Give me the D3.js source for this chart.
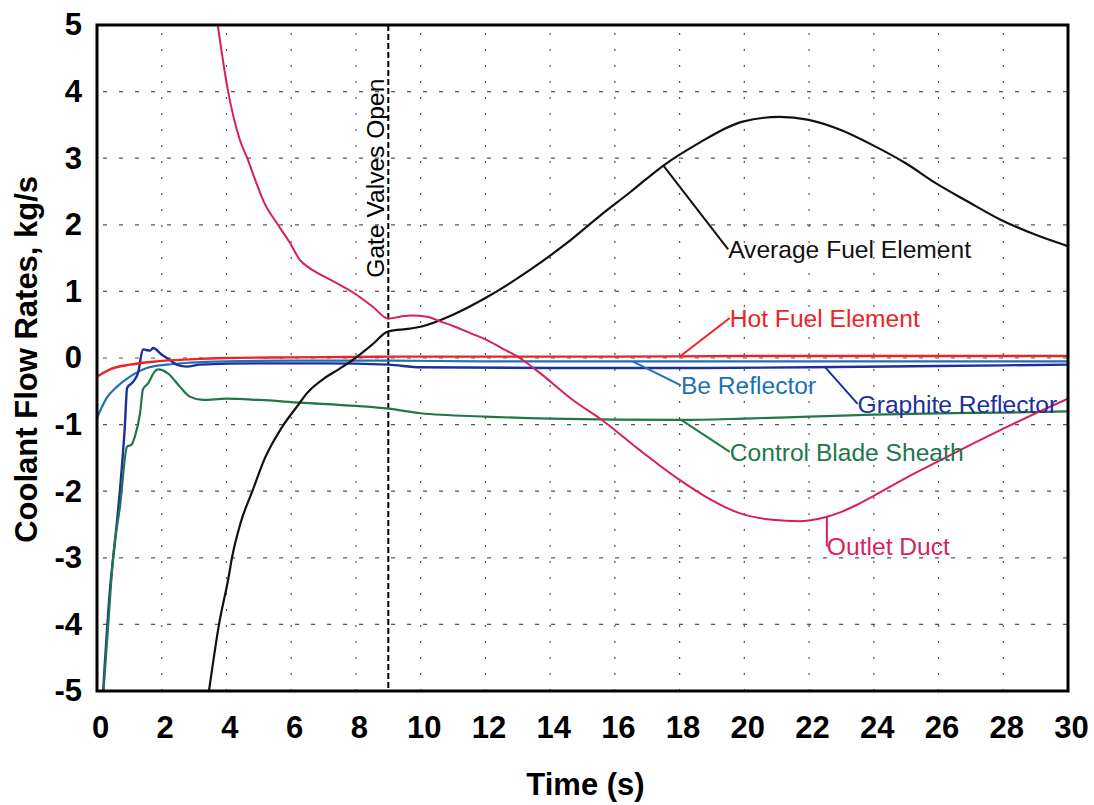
<!DOCTYPE html>
<html>
<head>
<meta charset="utf-8">
<script src="https://cdn.jsdelivr.net/npm/d3@7"></script>
<style>
  html, body { margin: 0; padding: 0; background: #fff; }
  svg { display: block; }
</style>
</head>
<body>
<svg id="chart" width="1094" height="805"></svg>
<script>
// ---------------- DATA ----------------
const xTicks = [0, 2, 4, 6, 8, 10, 12, 14, 16, 18, 20, 22, 24, 26, 28, 30];
const yTicks = [-5, -4, -3, -2, -1, 0, 1, 2, 3, 4, 5];
const xTitle = "Time (s)";
const yTitle = "Coolant Flow Rates, kg/s";
const gateTime = 9;
const gateLabel = "Gate Valves Open";

const outletX = [3.73, 4.04, 4.41, 4.66, 4.9, 5.17, 5.55, 5.96, 6.27, 6.57, 7.19, 8.02, 8.52, 9.0, 9.35, 9.7, 10.2, 10.6, 11.0, 11.5, 12.0, 12.5, 13.06, 13.67, 14.7, 15.6, 16.76, 18.0, 18.8, 19.85, 20.87, 21.7, 22.0, 22.5, 23.0, 23.5, 24.0, 25.0, 26.0, 27.0, 28.0, 29.0, 30];
const outletY = [5.0, 4.03, 3.28, 2.98, 2.66, 2.33, 2.03, 1.73, 1.47, 1.35, 1.18, 0.95, 0.77, 0.59, 0.62, 0.64, 0.62, 0.55, 0.48, 0.38, 0.28, 0.15, 0.0, -0.22, -0.63, -0.93, -1.38, -1.83, -2.08, -2.33, -2.43, -2.45, -2.44, -2.39, -2.31, -2.2, -2.07, -1.8, -1.55, -1.3, -1.06, -0.83, -0.61];

const avgX = [3.46, 3.77, 4.07, 4.17, 4.44, 4.8, 5.19, 5.7, 6.27, 6.45, 6.98, 7.5, 7.9, 8.5, 9.0, 9.66, 10.0, 11.0, 12.0, 13.4, 14.5, 15.5, 16.5, 17.5, 18.5, 19.95, 21.1, 21.95, 23.0, 23.95, 25.0, 25.9, 26.9, 27.9, 29.0, 30];
const avgY = [-5, -4, -3.28, -3.0, -2.47, -2.0, -1.5, -1.05, -0.67, -0.55, -0.32, -0.16, -0.03, 0.2, 0.4, 0.44, 0.47, 0.65, 0.9, 1.33, 1.72, 2.12, 2.5, 2.89, 3.2, 3.55, 3.62, 3.58, 3.42, 3.2, 2.92, 2.63, 2.35, 2.08, 1.85, 1.68];

const hotX = [0, 0.4, 1.02, 1.85, 2.87, 4, 6, 9, 12, 16, 20, 24, 30];
const hotY = [-0.28, -0.17, -0.1, -0.05, -0.02, 0.0, 0.01, 0.02, 0.02, 0.02, 0.03, 0.03, 0.03];

const beX = [0, 0.3, 0.62, 1.02, 1.54, 2.16, 2.87, 4, 6, 9, 12, 16, 20, 24, 30];
const beY = [-0.9, -0.6, -0.43, -0.28, -0.15, -0.1, -0.07, -0.05, -0.04, -0.04, -0.05, -0.05, -0.05, -0.05, -0.05];

const graphX = [0.19, 0.4, 0.55, 0.71, 0.86, 0.93, 1.11, 1.27, 1.42, 1.64, 1.73, 2.0, 2.25, 2.46, 2.78, 3.18, 5, 7, 9, 10, 14, 18, 22, 26, 30];
const graphY = [-5, -3.48, -2.78, -1.98, -1.03, -0.45, -0.36, -0.22, 0.13, 0.11, 0.15, 0.05, -0.03, -0.1, -0.13, -0.1, -0.08, -0.08, -0.1, -0.14, -0.15, -0.15, -0.14, -0.12, -0.1];

const bladeX = [0.2, 0.35, 0.5, 0.71, 0.93, 1.07, 1.17, 1.33, 1.42, 1.58, 1.79, 1.89, 2.19, 2.56, 2.87, 3.27, 4.0, 5.0, 6.27, 8, 9, 10, 12, 14, 18, 20, 22, 24, 26, 28, 30];
const bladeY = [-5, -3.98, -2.98, -2.23, -1.33, -1.3, -1.18, -0.83, -0.47, -0.38, -0.2, -0.17, -0.23, -0.43, -0.58, -0.63, -0.61, -0.63, -0.67, -0.72, -0.76, -0.83, -0.88, -0.91, -0.93, -0.91, -0.88, -0.85, -0.83, -0.82, -0.8];

const seriesNames = ["Outlet Duct", "Average Fuel Element", "Hot Fuel Element", "Be Reflector", "Graphite Reflector", "Control Blade Sheath"];
const seriesXs = [outletX, avgX, hotX, beX, graphX, bladeX];
const seriesYs = [outletY, avgY, hotY, beY, graphY, bladeY];

// annotation anchors (on curve) and label points, in data units
const labelAnchorX = [22.55, 17.5, 18.0, 16.55, 22.5, 18.05];
const labelAnchorY = [-2.39, 2.89, 0.02, -0.05, -0.14, -0.93];
const labelPosX = [22.55, 19.5, 19.55, 18.04, 23.5, 19.55];
const labelPosY = [-2.83, 1.63, 0.6, -0.41, -0.69, -1.41];

// ---------------- STYLE / LAYOUT ----------------
const colors = ["#d81f5c", "#111111", "#ec2424", "#2070b8", "#1b2f9e", "#22774a"];
const widths = [2, 2.2, 2.4, 2.2, 2.4, 2.2];
const margin = { left: 97, right: 1094 - 1068, top: 25, bottom: 805 - 691 };
const W = 1094, H = 805;

const svg = d3.select("#chart");
const x = d3.scaleLinear().domain([0, 30]).range([margin.left, W - margin.right]);
const y = d3.scaleLinear().domain([-5, 5]).range([H - margin.bottom, margin.top]);

const FONT = "'Liberation Sans', Arial, Helvetica, sans-serif";

// grid
const grid = svg.append("g");
grid.selectAll("line.h").data(yTicks.filter(v => v > -5 && v < 5)).join("line")
  .attr("x1", x(0)).attr("x2", x(30))
  .attr("y1", d => y(d)).attr("y2", d => y(d))
  .attr("stroke", "#555").attr("stroke-width", 1.2)
  .attr("stroke-dasharray", "4,12").attr("stroke-dashoffset", -6);
grid.selectAll("line.v").data(xTicks.filter(v => v > 0 && v < 30)).join("line")
  .attr("x1", d => x(d)).attr("x2", d => x(d))
  .attr("y1", y(5)).attr("y2", y(-5))
  .attr("stroke", "#555").attr("stroke-width", 1.2)
  .attr("stroke-dasharray", "2,14").attr("stroke-dashoffset", -8);

// clip
svg.append("clipPath").attr("id", "clip").append("rect")
  .attr("x", x(0)).attr("y", y(5)).attr("width", x(30) - x(0)).attr("height", y(-5) - y(5));

// gate valves line
svg.append("line")
  .attr("x1", x(gateTime)).attr("x2", x(gateTime))
  .attr("y1", y(5)).attr("y2", y(-5))
  .attr("stroke", "#000").attr("stroke-width", 2).attr("stroke-dasharray", "6,3");
svg.append("text")
  .attr("transform", `translate(${x(gateTime) - 4},${y(2.7)}) rotate(-90)`)
  .attr("text-anchor", "middle")
  .attr("font-family", FONT).attr("font-size", 24.6).attr("fill", "#000")
  .text(gateLabel);

// lines
const line = d3.line().x(d => x(d[0])).y(d => y(d[1])).curve(d3.curveMonotoneX);
const plot = svg.append("g").attr("clip-path", "url(#clip)");
const order = [3, 4, 2, 5, 1, 0];
order.forEach(i => {
  const pts = seriesXs[i].map((v, k) => [v, seriesYs[i][k]]);
  plot.append("path").datum(pts)
    .attr("d", line).attr("fill", "none")
    .attr("stroke", colors[i]).attr("stroke-width", widths[i])
    .attr("stroke-linejoin", "round");
});

// annotations
seriesNames.forEach((name, i) => {
  svg.append("line")
    .attr("x1", x(labelAnchorX[i])).attr("y1", y(labelAnchorY[i]))
    .attr("x2", x(labelPosX[i])).attr("y2", y(labelPosY[i]))
    .attr("stroke", colors[i]).attr("stroke-width", 2);
  svg.append("text")
    .attr("x", x(labelPosX[i])).attr("y", y(labelPosY[i]))
    .attr("dy", "0.35em")
    .attr("font-family", FONT).attr("font-size", 24.6)
    .attr("fill", colors[i])
    .text(name);
});

// frame
svg.append("rect")
  .attr("x", x(0)).attr("y", y(5)).attr("width", x(30) - x(0)).attr("height", y(-5) - y(5))
  .attr("fill", "none").attr("stroke", "#000").attr("stroke-width", 3);

// axes
const xAxis = svg.append("g").attr("transform", `translate(0,${y(-5)})`)
  .call(d3.axisBottom(x).tickValues(xTicks).tickSize(0).tickPadding(25).tickFormat(d3.format("d")));
xAxis.selectAll("text").attr("dx", 3);
const yAxis = svg.append("g").attr("transform", `translate(${x(0)},0)`)
  .call(d3.axisLeft(y).tickValues(yTicks).tickSize(0).tickPadding(15).tickFormat(d => d < 0 ? "-" + Math.abs(d) : d));
[xAxis, yAxis].forEach(g => {
  g.select(".domain").remove();
  g.selectAll("text").attr("font-family", FONT).attr("font-size", 31).attr("font-weight", "bold").attr("fill", "#000");
});

// titles
svg.append("text")
  .attr("x", (x(0) + x(30)) / 2 + 3).attr("y", 795)
  .attr("text-anchor", "middle")
  .attr("font-family", FONT).attr("font-size", 31).attr("font-weight", "bold")
  .text(xTitle);
svg.append("text")
  .attr("transform", `translate(37,${y(-0.02)}) rotate(-90)`)
  .attr("text-anchor", "middle")
  .attr("font-family", FONT).attr("font-size", 31).attr("font-weight", "bold")
  .text(yTitle);
</script>
</body>
</html>
